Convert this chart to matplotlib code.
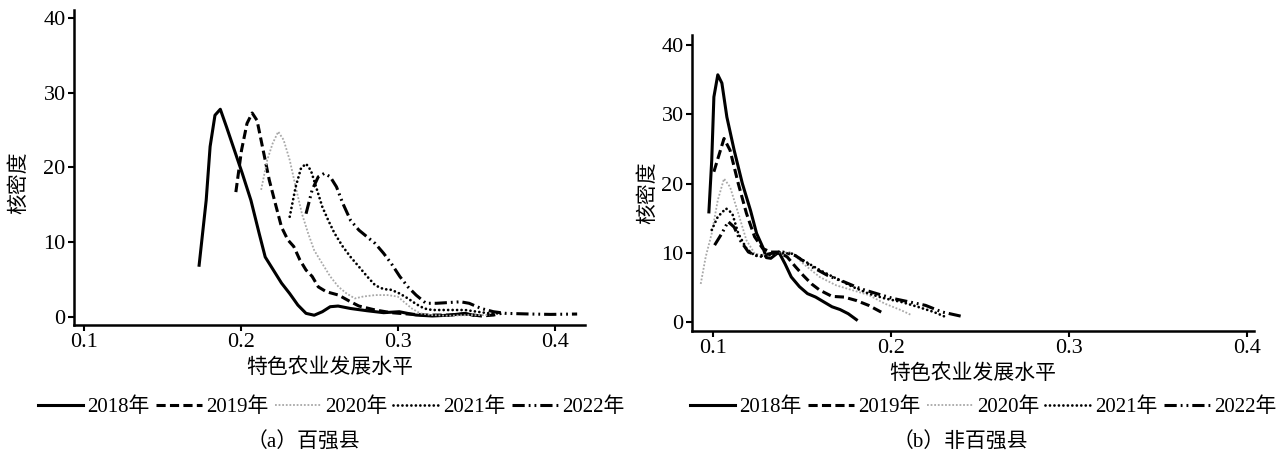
"""特色农业发展水平核密度曲线：百强县与非百强县对比。"""

import matplotlib

matplotlib.use("Agg")
import matplotlib.pyplot as plt

plt.rcParams["font.family"] = ["Liberation Serif", "Noto Sans CJK SC"]

YEARS = ["2018年", "2019年", "2020年", "2021年", "2022年"]

# (a) 百强县：各年份核密度曲线
A_2018_X = [0.1735, 0.178, 0.1805, 0.1836, 0.187, 0.191, 0.196, 0.201, 0.2065, 0.2117, 0.2156,
            0.2208, 0.226, 0.2312, 0.2364, 0.2416, 0.2468, 0.252, 0.257, 0.262, 0.270, 0.2805,
            0.291, 0.301, 0.3117, 0.322, 0.3325, 0.3429, 0.348]
A_2018_Y = [6.9, 15.6, 22.8, 27.0, 27.8, 25.4, 22.3, 19.2, 15.6, 11.2, 8.0,
            6.25, 4.5, 3.1, 1.56, 0.45, 0.2, 0.67, 1.34, 1.43, 1.1, 0.8,
            0.54, 0.67, 0.22, 0.1, 0.2, 0.45, 0.2]
A_2019_X = [0.1969, 0.2005, 0.204, 0.2073, 0.2104, 0.2143, 0.2182, 0.222, 0.226, 0.230, 0.2338,
            0.2377, 0.2416, 0.2455, 0.2494, 0.2545, 0.2623, 0.270, 0.2753, 0.2857, 0.296, 0.3065,
            0.3195, 0.3325, 0.3429, 0.3532, 0.361, 0.366]
A_2019_Y = [16.7, 22.3, 25.9, 27.3, 26.3, 22.3, 18.3, 15.2, 12.0, 10.3, 9.4,
            7.6, 6.25, 5.4, 4.0, 3.35, 2.9, 2.0, 1.43, 0.9, 0.54, 0.36,
            0.22, 0.22, 0.36, 0.1, 0.22, 0.45]
A_2020_X = [0.213, 0.2169, 0.2203, 0.2239, 0.2273, 0.2312, 0.235, 0.239, 0.2429, 0.2468, 0.252,
            0.257, 0.2623, 0.2675, 0.2727, 0.2779, 0.2857, 0.2935, 0.300, 0.3039, 0.309, 0.3143,
            0.322, 0.3325, 0.3455, 0.3584]
A_2020_Y = [17.0, 21.0, 23.2, 24.8, 23.7, 21.0, 17.4, 13.8, 11.2, 8.9, 7.1,
            5.4, 4.0, 3.1, 2.45, 2.7, 2.9, 2.9, 2.7, 2.0, 1.1, 0.45,
            0.22, 0.13, 0.22, 0.22]
A_2021_X = [0.2312, 0.235, 0.2384, 0.2416, 0.2447, 0.248, 0.252, 0.2558, 0.2597, 0.265, 0.270,
            0.2753, 0.2805, 0.2857, 0.291, 0.296, 0.3013, 0.3065, 0.3117, 0.3169, 0.322, 0.3325,
            0.3429, 0.3506, 0.3584, 0.366]
A_2021_Y = [13.4, 17.4, 19.9, 20.5, 19.6, 17.4, 14.7, 12.9, 11.2, 9.4, 8.0,
            6.7, 5.4, 4.2, 3.7, 3.6, 3.1, 2.45, 1.7, 1.1, 0.9, 0.9,
            0.9, 0.67, 0.45, 0.45]
A_2022_X = [0.2416, 0.2455, 0.2494, 0.2532, 0.257, 0.261, 0.265, 0.270, 0.2753, 0.2805, 0.2857,
            0.291, 0.296, 0.3013, 0.3065, 0.3117, 0.318, 0.3247, 0.3325, 0.340, 0.3455, 0.3532,
            0.361, 0.3688, 0.3844, 0.3974, 0.4143]
A_2022_Y = [13.8, 17.0, 18.75, 19.2, 18.75, 17.4, 15.2, 12.9, 11.6, 10.7, 9.8,
            8.5, 7.1, 5.4, 4.0, 2.9, 1.8, 1.8, 1.9, 2.0, 1.8, 1.1,
            0.67, 0.45, 0.36, 0.31, 0.36]

# (b) 非百强县
B_2018_X = [0.0977, 0.0993, 0.1005, 0.1027, 0.105, 0.1078, 0.1119, 0.1165, 0.1211, 0.1245, 0.128,
            0.1300, 0.1325, 0.137, 0.1405, 0.144, 0.1486, 0.1531, 0.1577, 0.1623, 0.1669, 0.1714,
            0.176, 0.1806]
B_2018_Y = [15.9, 23.4, 32.5, 35.7, 34.5, 29.6, 24.8, 20.0, 16.1, 12.8, 10.8,
            9.3, 9.2, 10.1, 8.4, 6.5, 5.1, 4.1, 3.6, 2.9, 2.2, 1.8,
            1.2, 0.34]
B_2019_X = [0.1005, 0.1062, 0.1096, 0.1142, 0.1188, 0.1234, 0.128, 0.1325, 0.137, 0.1417, 0.1463,
            0.1508, 0.1554, 0.160, 0.1669, 0.1737, 0.1806, 0.1875, 0.1962]
B_2019_Y = [21.7, 26.5, 24.8, 20.0, 15.7, 12.3, 10.6, 10.1, 10.1, 9.4, 8.0,
            6.7, 5.5, 4.6, 3.7, 3.6, 3.1, 2.4, 1.2]
B_2020_X = [0.0931, 0.0959, 0.0993, 0.1027, 0.1062, 0.1096, 0.1142, 0.1188, 0.1234, 0.128, 0.1348,
            0.144, 0.1508, 0.160, 0.1692, 0.1783, 0.1875, 0.1966, 0.2058, 0.2115]
B_2020_Y = [5.5, 9.4, 12.8, 17.6, 20.7, 19.5, 15.7, 11.8, 9.9, 9.6, 9.9,
            10.1, 8.4, 6.5, 5.3, 4.6, 3.9, 2.65, 1.7, 1.0]
B_2021_X = [0.0993, 0.1027, 0.1073, 0.1108, 0.1142, 0.1188, 0.1234, 0.128, 0.1348, 0.144, 0.1508,
            0.160, 0.1692, 0.1783, 0.1875, 0.1966, 0.2058, 0.215, 0.2241, 0.231]
B_2021_Y = [13.3, 15.2, 16.4, 15.7, 12.8, 10.6, 9.6, 9.4, 9.9, 9.9, 8.9,
            7.5, 6.3, 5.1, 4.1, 3.4, 2.9, 2.2, 1.45, 0.7]
B_2022_X = [0.1009, 0.105, 0.1085, 0.1119, 0.1153, 0.1199, 0.1256, 0.1325, 0.1394, 0.1463, 0.1554,
            0.1646, 0.1737, 0.183, 0.192, 0.2012, 0.2104, 0.2195, 0.2287, 0.2401]
B_2022_Y = [11.1, 12.8, 14.5, 13.7, 11.8, 10.1, 9.5, 9.9, 10.1, 9.6, 8.0,
            6.7, 5.8, 4.8, 4.1, 3.4, 2.9, 2.4, 1.45, 0.8]

X_TICKS = [0.1, 0.2, 0.3, 0.4]
Y_TICKS = [0, 10, 20, 30, 40]

# 线型：实线、虚线、灰色细点线、黑色圆点线、长划点线
STYLES = [
    dict(color="black", linewidth=2.2, linestyle="-"),
    dict(color="black", linewidth=2.2, linestyle=(0, (3.0, 1.4))),
    dict(color="#a8a8a8", linewidth=1.3, linestyle=(0, (1.0, 1.0))),
    dict(color="black", linewidth=2.0, linestyle=(0, (0.01, 1.6)), dash_capstyle="round"),
    dict(color="black", linewidth=2.2, linestyle=(0, (4.0, 1.3, 0.6, 1.3, 0.6, 1.3))),
]


def _style_axes(ax, xlim, ylim):
    ax.set_xlim(*xlim)
    ax.set_ylim(*ylim)
    ax.set_xticks(X_TICKS, labels=[f"{t:.1f}" for t in X_TICKS])
    ax.set_yticks(Y_TICKS)
    ax.spines["top"].set_visible(False)
    ax.spines["right"].set_visible(False)
    for side in ("left", "bottom"):
        ax.spines[side].set_linewidth(1.8)
    ax.tick_params(direction="out", length=4, width=1.5, labelsize=16, pad=2)


def _draw_panel(ax, series, xlim, ylim, legend_xy, xlabel_y, ylabel_xy, caption_xy, caption):
    for (xs, ys), style, year in zip(series, STYLES, YEARS):
        ax.plot(xs, ys, label=year, **style)
    _style_axes(ax, xlim, ylim)
    fig = ax.figure
    box = ax.get_position()
    fig.text((box.x0 + box.x1) / 2, xlabel_y, "特色农业发展水平", ha="center", va="center",
             fontsize=15, family=["Noto Sans CJK SC"])
    fig.text(ylabel_xy[0], ylabel_xy[1], "核密度", ha="center", va="center", rotation=90,
             fontsize=15, family=["Noto Sans CJK SC"])
    ax.legend(loc="center", bbox_to_anchor=legend_xy, bbox_transform=fig.transFigure, ncol=5,
              frameon=False, fontsize=15, handlelength=2.2, handletextpad=0.2, columnspacing=0.3,
              borderaxespad=0)
    fig.text(caption_xy[0], caption_xy[1], caption, ha="center", va="center", fontsize=15)


fig = plt.figure(figsize=(12.8, 4.58), dpi=100)
W, H = 1280, 458

ax_a = fig.add_axes([74 / W, 1 - 325 / H, (585 - 74) / W, (325 - 10) / H])
ax_b = fig.add_axes([692 / W, 1 - 331 / H, (1254 - 692) / W, (331 - 35) / H])

_draw_panel(
    ax_a,
    [(A_2018_X, A_2018_Y), (A_2019_X, A_2019_Y), (A_2020_X, A_2020_Y),
     (A_2021_X, A_2021_Y), (A_2022_X, A_2022_Y)],
    xlim=(0.0938, 0.4193), ylim=(-1.11, 41.1),
    legend_xy=(331 / W, 1 - 407 / H), xlabel_y=1 - 367 / H,
    ylabel_xy=(18 / W, 1 - 183 / H), caption_xy=(303 / W, 1 - 443 / H), caption="（a）百强县",
)
_draw_panel(
    ax_b,
    [(B_2018_X, B_2018_Y), (B_2019_X, B_2019_Y), (B_2020_X, B_2020_Y),
     (B_2021_X, B_2021_Y), (B_2022_X, B_2022_Y)],
    xlim=(0.0882, 0.4041), ylim=(-1.3, 41.45),
    legend_xy=(983 / W, 1 - 407 / H), xlabel_y=1 - 373 / H,
    ylabel_xy=(647 / W, 1 - 193 / H), caption_xy=(960 / W, 1 - 443 / H), caption="（b）非百强县",
)

fig.savefig("out.png", dpi=100)
